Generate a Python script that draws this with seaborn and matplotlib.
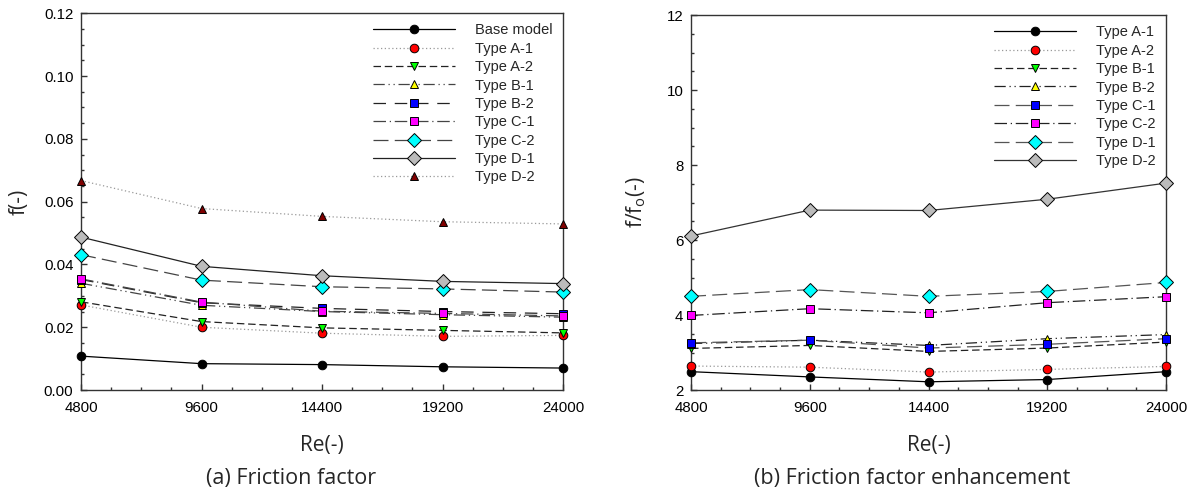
import seaborn as sns
import matplotlib.pyplot as plt
import matplotlib.ticker as mticker
import pandas as pd

# Reynolds numbers
re_vals = [4800, 9600, 14400, 19200, 24000]

# (a) friction factor f
f_base = [0.0108, 0.0084, 0.0081, 0.0074, 0.0070]
f_a1 = [0.0271, 0.0200, 0.0181, 0.0171, 0.0174]
f_a2 = [0.0281, 0.0218, 0.0198, 0.0190, 0.0182]
f_b1 = [0.0340, 0.0270, 0.0250, 0.0240, 0.0232]
f_b2 = [0.0352, 0.0278, 0.0260, 0.0250, 0.0243]
f_c1 = [0.0354, 0.0280, 0.0251, 0.0244, 0.0236]
f_c2 = [0.0431, 0.0350, 0.0329, 0.0322, 0.0312]
f_d1 = [0.0487, 0.0394, 0.0364, 0.0346, 0.0339]
f_d2 = [0.0667, 0.0578, 0.0553, 0.0536, 0.0529]

# (b) friction factor enhancement f/fo
r_a1 = [2.49, 2.35, 2.22, 2.28, 2.49]
r_a2 = [2.64, 2.61, 2.48, 2.55, 2.63]
r_b1 = [3.11, 3.19, 3.03, 3.12, 3.28]
r_b2 = [3.24, 3.33, 3.19, 3.37, 3.48]
r_c1 = [3.26, 3.33, 3.12, 3.22, 3.37]
r_c2 = [3.99, 4.17, 4.06, 4.33, 4.49]
r_d1 = [4.50, 4.68, 4.50, 4.63, 4.87]
r_d2 = [6.11, 6.80, 6.79, 7.09, 7.52]

# estilos de linha
solid = '-'
dotted = (0, (1, 2))
dashed = (0, (6, 3))
dashdotdot = (0, (9, 3, 1, 3, 1, 3))
longgap = (0, (10, 7))
dashdot = (0, (10, 3, 1, 3))
longdash = (0, (12, 5))

# (rotulo, dados, cor do marcador, marcador, estilo de linha, cor da linha)
series_a = [
    ('Base model', f_base, 'black', 'o', solid, 'black'),
    ('Type A-1', f_a1, 'red', 'o', dotted, '#999999'),
    ('Type A-2', f_a2, '#00ff00', 'v', dashed, '#222222'),
    ('Type B-1', f_b1, 'yellow', '^', dashdotdot, '#444444'),
    ('Type B-2', f_b2, 'blue', 's', longgap, '#222222'),
    ('Type C-1', f_c1, 'magenta', 's', dashdot, '#444444'),
    ('Type C-2', f_c2, 'cyan', 'D', longdash, '#444444'),
    ('Type D-1', f_d1, '#bbbbbb', 'D', solid, '#222222'),
    ('Type D-2', f_d2, '#800000', '^', dotted, '#999999'),
]

series_b = [
    ('Type A-1', r_a1, 'black', 'o', solid, 'black'),
    ('Type A-2', r_a2, 'red', 'o', dotted, '#999999'),
    ('Type B-1', r_b1, '#00ff00', 'v', dashed, '#222222'),
    ('Type B-2', r_b2, 'yellow', '^', dashdotdot, '#222222'),
    ('Type C-1', r_c1, 'blue', 's', longdash, '#555555'),
    ('Type C-2', r_c2, 'magenta', 's', dashdot, '#222222'),
    ('Type D-1', r_d1, 'cyan', 'D', longdash, '#555555'),
    ('Type D-2', r_d2, '#bbbbbb', 'D', solid, '#333333'),
]

sns.set_style('white')
plt.rcParams['font.family'] = ['Liberation Sans', 'DejaVu Sans']

fig = plt.figure(figsize=(11.97, 4.9), dpi=100)
ax1 = fig.add_axes([0.0677, 0.204, 0.4027, 0.769])
ax2 = fig.add_axes([0.5773, 0.204, 0.3968, 0.765])


def desenha(ax, series):
    for nome, vals, cor, mk, ls, lcor in series:
        df = pd.DataFrame({'Re': re_vals, 'v': vals})
        ms = 7.2 if mk == 'D' else 6.2
        sns.lineplot(data=df, x='Re', y='v', ax=ax, label=nome, color=lcor,
                     linestyle=ls, linewidth=0.9, marker=mk, markersize=ms,
                     markerfacecolor=cor, markeredgecolor='black',
                     markeredgewidth=0.7, clip_on=False, zorder=3)
    ax.set_xlim(4800, 24000)
    ax.xaxis.set_major_locator(mticker.FixedLocator(re_vals))
    ax.xaxis.set_minor_locator(mticker.MultipleLocator(1200))
    ax.tick_params(axis='both', which='both', direction='in', bottom=True, left=True,
                   top=False, right=False, labelsize=10.8, color='#333333',
                   labelcolor='black')
    ax.tick_params(which='major', length=4, width=1)
    ax.tick_params(which='minor', length=2.2, width=1)
    ax.tick_params(axis='x', pad=8)
    ax.tick_params(axis='y', pad=5.5)
    for s in ax.spines.values():
        s.set_color('#333333')
        s.set_linewidth(1.0)
    ax.set_xlabel('Re(-)', fontsize=15, family='Open Sans', labelpad=14)
    ax.legend(loc='upper right', frameon=False, handlelength=5.6, fontsize=10.5,
              labelspacing=0.3, handletextpad=1.4, borderaxespad=0.3)


desenha(ax1, series_a)
ax1.set_ylim(0, 0.12)
ax1.yaxis.set_major_locator(mticker.MultipleLocator(0.02))
ax1.yaxis.set_minor_locator(mticker.MultipleLocator(0.005))
ax1.yaxis.set_major_formatter(mticker.FormatStrFormatter('%.2f'))
ax1.set_ylabel('f(-)', fontsize=15, family='Open Sans', labelpad=10)

desenha(ax2, series_b)
ax2.set_ylim(2, 12)
ax2.yaxis.set_major_locator(mticker.MultipleLocator(2))
ax2.yaxis.set_minor_locator(mticker.MultipleLocator(0.5))
ax2.set_ylabel(r'f/f$_\mathregular{o}$(-)', fontsize=15, family='Open Sans', labelpad=13)

fig.text(291 / 1197, 1 - 478 / 490, '(a) Friction factor', ha='center', va='center',
         fontsize=15.5, family='Open Sans')
fig.text(912 / 1197, 1 - 478 / 490, '(b) Friction factor enhancement', ha='center',
         va='center', fontsize=15.5, family='Open Sans')

plt.savefig('out.png', dpi=100)
